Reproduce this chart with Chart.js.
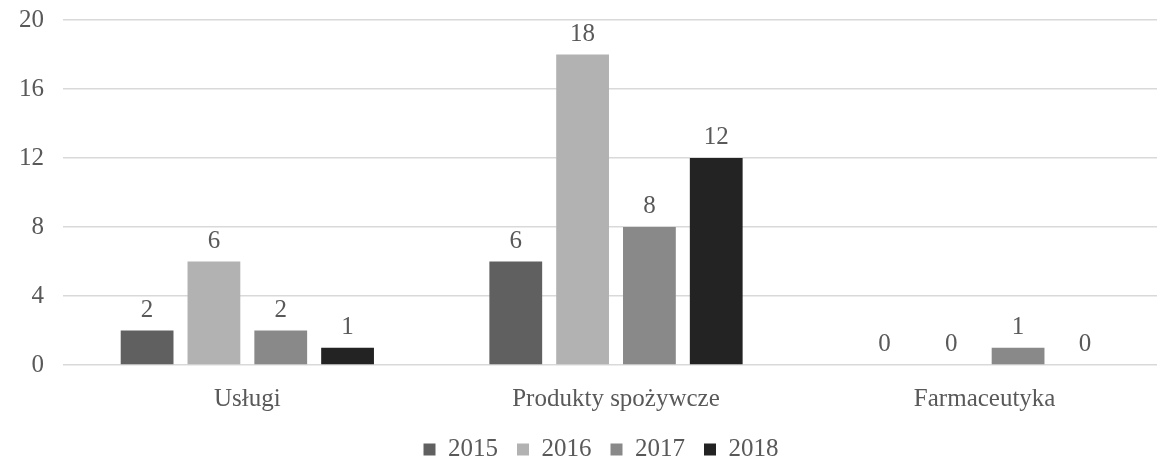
<!DOCTYPE html>
<html>
<head>
<meta charset="utf-8">
<script src="https://cdn.jsdelivr.net/npm/chart.js@4.4.1/dist/chart.umd.min.js"></script>
<style>
  html, body { margin: 0; padding: 0; background: #fff; }
  #wrap { width: 1157px; height: 458px; }
</style>
</head>
<body>
<div id="wrap"><canvas id="chart"></canvas></div>
<script>
const categories = ["Usługi", "Produkty spożywcze", "Farmaceutyka"];
const years = ["2015", "2016", "2017", "2018"];
const values2015 = [2, 6, 0];
const values2016 = [6, 18, 0];
const values2017 = [2, 8, 1];
const values2018 = [1, 12, 0];
const yTicks = [0, 4, 8, 12, 16, 20];

const colors = ["#606060", "#b2b2b2", "#898989", "#232323"];
const textColor = "#595959";
const fontFamily = "'Liberation Serif', 'DejaVu Serif', serif";
const fontSize = 25;

// rysuje wartości nad słupkami
const valueLabels = {
  id: "valueLabels",
  afterDatasetsDraw(chart) {
    const ctx = chart.ctx;
    ctx.save();
    ctx.font = fontSize + "px " + fontFamily;
    ctx.fillStyle = textColor;
    ctx.textAlign = "center";
    ctx.textBaseline = "bottom";
    chart.data.datasets.forEach((ds, i) => {
      chart.getDatasetMeta(i).data.forEach((bar, j) => {
        ctx.fillText(ds.data[j], bar.x, bar.y - 8);
      });
    });
    ctx.restore();
  }
};

// legenda troche w lewo, os x troche dalej w prawo (wykres przyciety z prawej)
const layoutTweak = {
  id: "layoutTweak",
  afterLayout(chart) {
    chart.legend.left -= 9;
    chart.legend.right -= 9;
    const x = chart.scales.x;
    x.right += 12;
    x.width += 12;
    x.configure();
  }
};

const series = [values2015, values2016, values2017, values2018];

new Chart(document.getElementById("chart"), {
  type: "bar",
  data: {
    labels: categories,
    datasets: years.map((y, i) => ({
      label: y,
      data: series[i],
      backgroundColor: colors[i],
      borderWidth: 0,
      categoryPercentage: 0.725,
      barPercentage: 0.79
    }))
  },
  options: {
    responsive: true,
    maintainAspectRatio: false,
    animation: false,
    layout: { padding: { top: 20, right: 0, left: 0, bottom: -14 } },
    plugins: {
      tooltip: { enabled: false },
      legend: {
        position: "bottom",
        fullSize: false,
        labels: {
          boxWidth: 12,
          boxHeight: 12,
          padding: 19,
          color: textColor,
          font: { family: fontFamily, size: fontSize }
        }
      }
    },
    scales: {
      x: {
        afterFit: (axis) => { axis.paddingLeft = 0; axis.paddingRight = 0; axis.height -= 7; },
        grid: { display: false },
        border: { display: false },
        ticks: {
          color: textColor,
          padding: 11,
          font: { family: fontFamily, size: fontSize }
        }
      },
      y: {
        min: 0,
        max: 20,
        afterBuildTicks: (axis) => { axis.ticks = yTicks.map((v) => ({ value: v })); },
        afterFit: (axis) => { axis.paddingTop = 0; axis.paddingBottom = 0; },
        grid: { color: "#d9d9d9", lineWidth: 1.5, drawTicks: false },
        border: { display: false },
        ticks: {
          color: textColor,
          padding: 19,
          font: { family: fontFamily, size: fontSize }
        }
      }
    }
  },
  plugins: [valueLabels, layoutTweak]
});
</script>
</body>
</html>
